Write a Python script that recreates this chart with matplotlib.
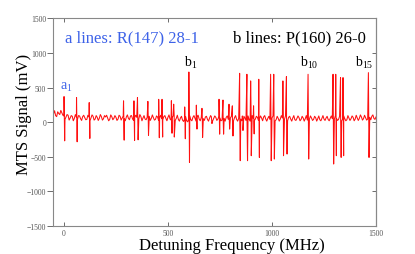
import numpy as np
import matplotlib
matplotlib.use("Agg")
from matplotlib import pyplot as plt

plt.rcParams['font.family'] = ['Liberation Serif', 'DejaVu Serif']
plt.rcParams['mathtext.fontset'] = 'custom'
plt.rcParams['mathtext.rm'] = 'Liberation Serif'

# baseline trace, every 10 MHz from -50 to 1500 (mV)
base_f = list(range(-50, 1501, 10))
base_mv = [120, 95, 150, 110, 135, 90,
           75, 100, 60, 85, 55, 70, 95, 50, 80, 65,
           40, 75, 60, 85, 45, 70, 55, 80, 50, 75,
           60, 40, 80, 55, 70, 45, 85, 60, 50, 75,
           55, 90, 45, 65, 70, 50, 80, 60, 45, 70,
           85, 55, 65, 40, 75, 60, 50, 80, 55, 70,
           45, 65, 90, 55, 40, 60, 30, 45, 20, 50,
           35, 70, 55, 80, 45, 65, 50, 75, 40, 60,
           35, 55, 70, 45, 60, 30, 55, 70, 40, 60,
           50, 65, 40, 55, 45, 30, 60, 50, 40, 65,
           55, 45, 70, 50, 60, 75, 45, 55, 40, 60,
           50, 35, 55, 45, 60, 40, 55, 70, 45, 60,
           35, 55, 65, 40, 60, 50, 30, 45, 60, 40,
           65, 50, 35, 55, 45, 60, 40, 55, 50, 45,
           55, 40, 60, 45, 50, 35, 60, 50, 70, 45,
           60, 55, 75, 50, 65, 45, 70, 85, 55, 75]

# in-between baseline samples, -45 to 1495 MHz
base_f2 = list(range(-45, 1496, 10))
base_mv2 = [165, 80, 125, 170, 100, 40, 110, 30, 95, 20,
            110, 40, 90, 25, 100, 35, 100, 20, 105, 30,
            95, 25, 110, 30, 95, 100, 20, 105, 35, 95,
            25, 100, 30, 90, 20, 105, 35, 95, 25, 100,
            30, 110, 20, 95, 35, 100, 25, 105, 30, 90,
            25, 100, 35, 95, 20, 105, 30, 90, 25, 100,
            15, 85, 10, 80, 5, 90, 20, 95, 15, 100,
            20, 90, 25, 85, 15, 95, 20, 90, 25, 85,
            20, 95, 15, 90, 25, 85, 20, 95, 15, 90,
            20, 85, 25, 90, 15, 95, 20, 85, 25, 90,
            20, 95, 15, 85, 25, 90, 20, 85, 15, 95,
            25, 90, 20, 85, 15, 95, 25, 90, 20, 85,
            15, 95, 20, 90, 25, 85, 15, 90, 20, 95,
            25, 85, 20, 90, 15, 95, 25, 85, 20, 90,
            20, 95, 25, 90, 20, 100, 25, 105, 30, 100,
            30, 110, 35, 105, 40]

# resonance lines: centre (MHz), positive peak, negative peak (mV)
line_f = [2, 62, 123, 288, 338, 355, 405, 457, 473, 518, 529, 582, 602, 638,
          665, 710, 747, 766, 795, 811, 846, 859, 881, 899, 913, 938, 995,
          1010, 1054, 1071, 1175, 1295, 1308, 1331, 1343, 1465]
line_up = [370, 356, 283, 308, 308, 356, 300, 330, 330, 310, 260, 220, 725, 246,
           200, 80, 331, 320, 259, 236, 706, 90, 692, 596, 236, 620, 692,
           692, 596, 658, 692, 692, 692, 644, 644, 716]
line_dn = [-270, -284, -235, -260, -265, -255, -190, -225, -215, -160, -215, -240, -581, -100,
           -220, -20, -173, -173, -100, -200, -557, -120, -557, -485, -170, -510, -557,
           -533, -485, -461, -533, -605, -485, -509, -485, -510]

pts = list(zip(base_f, base_mv)) + list(zip(base_f2, base_mv2))
for f, u, d in zip(line_f, line_up, line_dn):
    pts.append((f - 1.5, u))
    pts.append((f + 1.5, d))
pts.sort()
freq = np.array([p[0] for p in pts])
sig = np.array([p[1] for p in pts])

fig = plt.figure(figsize=(4.15, 2.55), dpi=100)
ax = fig.add_axes([0.128, 0.110, 0.778, 0.814])
ax.plot(freq, sig, color='#ff1010', linewidth=0.75)

ax.set_xlim(-52, 1500)
ax.set_ylim(-1500, 1500)
ax.set_xticks([0, 500, 1000, 1500])
ax.set_yticks([-1500, -1000, -500, 0, 500, 1000, 1500])
ax.tick_params(axis='x', direction='in', length=3, width=0.6, labelsize=5.5,
               colors='#555555', top=True, pad=2)
ax.tick_params(axis='y', direction='out', length=4, width=0.6, labelsize=5.5,
               colors='#555555', right=False, pad=1)
ax2 = ax.secondary_yaxis('right')
ax2.set_yticks([-1500, -1000, -500, 0, 500, 1000, 1500])
ax2.tick_params(direction='in', length=3, width=0.6, colors='#555555',
                labelright=False)
ax2.spines['right'].set_color('#888888')
for s in ax.spines.values():
    s.set_color('#888888')
    s.set_linewidth(0.8)

ax.set_xlabel('Detuning Frequency (MHz)', fontsize=12, labelpad=0)
ax.xaxis.set_label_coords(0.554, -0.055, transform=ax.transAxes)
ax.xaxis.label.set_va('top')
ax.set_ylabel('MTS Signal (mV)', fontsize=12)
ax.yaxis.set_label_coords(-0.065, 0.54)

ax.text(5, 1220, 'a lines: R(147) 28-1', color='#3d62e8', fontsize=12, va='center')
ax.text(1452, 1220, 'b lines: P(160) 26-0', color='black', fontsize=12,
        va='center', ha='right')
ax.text(-20, 520, r'a$_{\mathregular{1}}$', color='#3d62e8', fontsize=10, va='center')
ax.text(611, 870, r'b$_{\mathregular{1}}$', fontsize=10, ha='center', va='center')
ax.text(1180, 870, r'b$_{\mathregular{10}}$', fontsize=10, ha='center', va='center')
ax.text(1445, 870, r'b$_{\mathregular{15}}$', fontsize=10, ha='center', va='center')

fig.savefig('out.png', dpi=100)
